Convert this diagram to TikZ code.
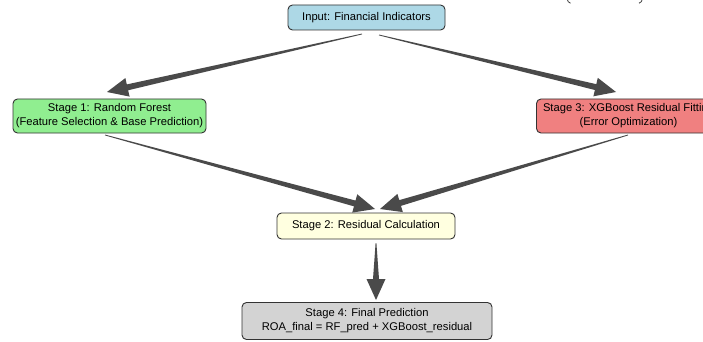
\documentclass[tikz,border=0pt]{standalone}
\usepackage{fontspec}
\setmainfont{Liberation Sans}
\usetikzlibrary{calc}
\definecolor{arrowcol}{HTML}{4A4A4A}
\definecolor{edgecol}{HTML}{333333}
\definecolor{cInput}{HTML}{ADD8E6}
\definecolor{cGreen}{HTML}{90EE90}
\definecolor{cCoral}{HTML}{F08080}
\definecolor{cYellow}{HTML}{FFFFE0}
\definecolor{cGray}{HTML}{D3D3D3}
\newcommand\fahl{21pt}
\newcommand\fahw{9.5pt}
\newcommand\fasw{3pt}
\newcommand\tapArrow[2]{%
  \coordinate (fa-h) at ($(#2)!\fahl!(#1)$);
  \fill[arrowcol] ($(#1)!0.4pt!90:(#2)$) -- ($(fa-h)!\fasw!-90:(#1)$) -- ($(fa-h)!\fahw!-90:(#1)$) -- (#2)
     -- ($(fa-h)!\fahw!90:(#1)$) -- ($(fa-h)!\fasw!90:(#1)$) -- ($(#1)!0.4pt!-90:(#2)$) -- cycle;}
\tikzset{
  box/.style={draw=edgecol, line width=0.9pt, rounded corners=4.5pt, align=center,
    inner sep=0pt, font=\fontsize{11.2}{14}\selectfont, text=black},
}
\begin{document}
\begin{tikzpicture}[x=1pt,y=-1pt]
\useasboundingbox (0,0) rectangle (703,342);
\fill[white] (0,0) rectangle (703,342);
% clipped title fragments
\draw[black!75, line width=0.8pt] (567.5,0) .. controls (568,1.8) .. (570.5,3.2);
\draw[black!75, line width=0.8pt] (642,0) .. controls (641.5,1.8) .. (639,3.2);

\node[box, fill=cInput, minimum width=157pt, minimum height=25pt] (in) at (366.5,17.5) {Input: Financial Indicators};
\node[box, fill=cGreen, minimum width=193pt, minimum height=34pt] (s1) at (109.5,116) {Stage 1: Random Forest\\(Feature Selection \& Base Prediction)};
\node[box, fill=cCoral, minimum width=184pt, minimum height=34pt] (s3) at (628.5,116) {Stage 3: XGBoost Residual Fitting\\(Error Optimization)};
\node[box, fill=cYellow, minimum width=178pt, minimum height=26pt] (s2) at (366,226) {Stage 2: Residual Calculation};
\node[box, fill=cGray, minimum width=250pt, minimum height=37pt] (s4) at (367,321) {Stage 4: Final Prediction\\ROA\_final = RF\_pred + XGBoost\_residual};

% arrow end points
\coordinate (a1s) at (362,34);
\coordinate (a1e) at (107,92);
\coordinate (a2s) at (379,35);
\coordinate (a2e) at (616,92);
\coordinate (a3s) at (105,135);
\coordinate (a3e) at (375,209);
\coordinate (a4s) at (628,135);
\coordinate (a4e) at (380,209);
\coordinate (a5s) at (376,243);
\coordinate (a5e) at (376,300);

\tapArrow{a1s}{a1e}
\tapArrow{a2s}{a2e}
\tapArrow{a3s}{a3e}
\tapArrow{a4s}{a4e}
\tapArrow{a5s}{a5e}
\end{tikzpicture}
\end{document}
